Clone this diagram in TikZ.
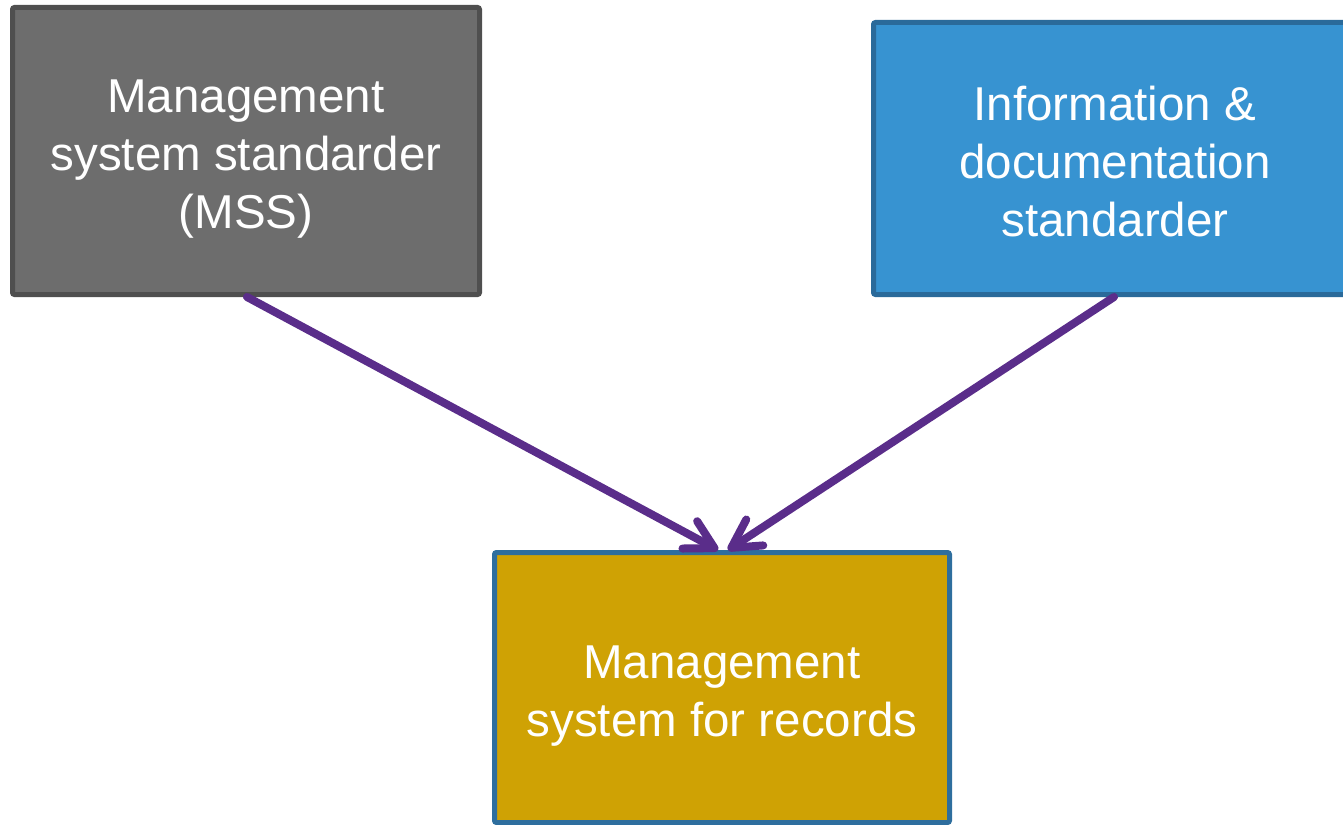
\documentclass[tikz,border=0pt]{standalone}
\usepackage{fontspec}
\setmainfont{Liberation Sans}
\usetikzlibrary{arrows.meta,calc}
\definecolor{grayfill}{HTML}{6D6D6D}
\definecolor{grayline}{HTML}{4F4F4F}
\definecolor{bluefill}{HTML}{3793D1}
\definecolor{blueline}{HTML}{2A6A9A}
\definecolor{goldfill}{HTML}{CFA204}
\definecolor{goldline}{HTML}{2E6E9E}
\definecolor{arrowpurple}{HTML}{5A2D8A}
\tikzset{
  box/.style={draw, line width=5pt, rounded corners=2pt, inner sep=0pt},
  boxtext/.style={inner sep=0pt, align=center, text=white, font=\fontsize{47.5}{58}\selectfont},
  link/.style={draw=arrowpurple, line width=8pt, line cap=round,
    -{Straight Barb[length=28pt, width=31pt, line cap=round, line join=round]}}
}
\begin{document}
\begin{tikzpicture}[x=1pt, y=-1pt]
\useasboundingbox (0,0) rectangle (1343,824);
\clip (0,0) rectangle (1343,824);
\node[box, fill=grayfill, draw=grayline, minimum width=467pt, minimum height=287pt]
  (mss) at (246,151) {};
\node[boxtext] (mssT) at ($(mss.center)+(0,8)$) {Management\\system standarder\\(MSS)};
\node[box, fill=bluefill, draw=blueline, minimum width=483pt, minimum height=272pt]
  (info) at (1115,158.5) {};
\node[boxtext] (infoT) at ($(info.center)+(0,3)$) {Information \&\\documentation\\standarder};
\node[box, fill=goldfill, draw=goldline, minimum width=455pt, minimum height=270pt]
  (rec) at (722,687.5) {};
\node[boxtext] (recT) at ($(rec.center)+(0,9)$) {Management\\system for records};
\coordinate (tipL) at ($(rec.north)+(-4,0)$);
\coordinate (tipR) at ($(rec.north)+(6,0)$);
\coordinate (startL) at ($(mss.south)+(1,0)$);
\coordinate (startR) at ($(info.south)+(-1,0)$);
\draw[link] (startL) -- (tipL);
\draw[link] (startR) -- (tipR);
\end{tikzpicture}
\end{document}
